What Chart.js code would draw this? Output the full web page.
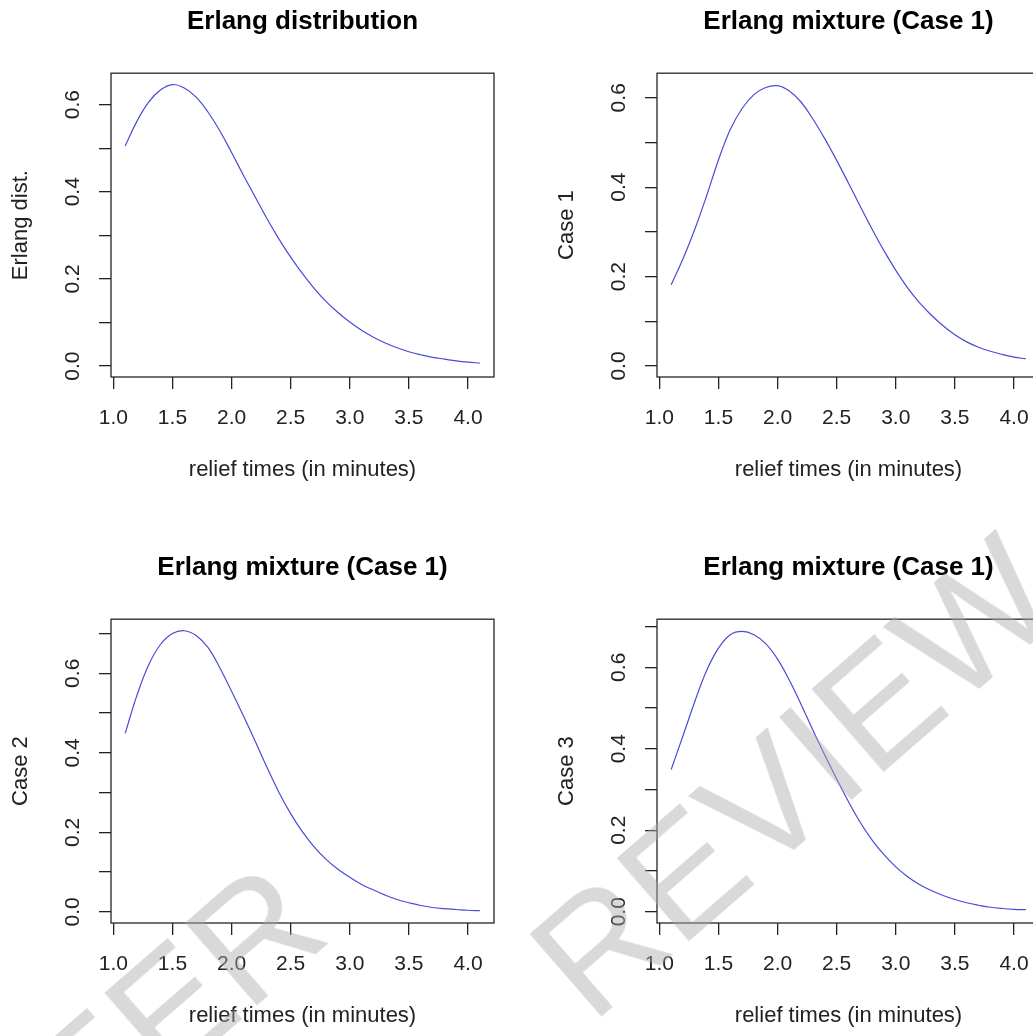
<!DOCTYPE html>
<html>
<head>
<meta charset="utf-8">
<script src="https://cdn.jsdelivr.net/npm/chart.js@4.4.1/dist/chart.umd.min.js"></script>
<style>
  html, body { margin: 0; padding: 0; background: #fff; }
  #page { position: relative; width: 1033px; height: 1036px; overflow: hidden; background: #fff; }
  .panel { position: absolute; width: 546px; height: 546px; }
  .panel canvas { display: block; }
  .stamp {
    position: absolute;
    font-family: 'Liberation Sans', Arial, sans-serif; font-size: 160px;
    color: rgba(170, 170, 170, 0.45); white-space: nowrap;
    transform: translate(-50%, -50%) rotate(-41deg);
    pointer-events: none;
  }
</style>
</head>
<body>
<div id="page">
  <div class="panel" style="left:0;top:0"><canvas id="c1" width="546" height="546"></canvas></div>
  <div class="panel" style="left:546px;top:0"><canvas id="c2" width="546" height="546"></canvas></div>
  <div class="panel" style="left:0;top:546px"><canvas id="c3" width="546" height="546"></canvas></div>
  <div class="panel" style="left:546px;top:546px"><canvas id="c4" width="546" height="546"></canvas></div>
  <div class="stamp" style="left:134px;top:1040px">PEER</div>
  <div class="stamp" style="left:794px;top:777px">REVIEW</div>
</div>
<script>
// relief times, every 0.1 min
const reliefTimes = [1.1, 1.2, 1.3, 1.4, 1.5, 1.6, 1.7, 1.8, 1.9, 2.0,
                     2.1, 2.2, 2.3, 2.4, 2.5, 2.6, 2.7, 2.8, 2.9, 3.0,
                     3.1, 3.2, 3.3, 3.4, 3.5, 3.6, 3.7, 3.8, 3.9, 4.0, 4.1];

const erlangDist = [0.505, 0.562, 0.606, 0.634, 0.646, 0.638, 0.617, 0.583, 0.540, 0.490,
                    0.438, 0.388, 0.338, 0.292, 0.250, 0.212, 0.178, 0.148, 0.123, 0.101,
                    0.082, 0.066, 0.053, 0.042, 0.033, 0.026, 0.020, 0.016, 0.012, 0.009, 0.007];

const case1 = [0.182, 0.240, 0.306, 0.381, 0.461, 0.529, 0.576, 0.607, 0.623, 0.627,
               0.615, 0.590, 0.552, 0.508, 0.460, 0.409, 0.357, 0.306, 0.258, 0.214,
               0.175, 0.142, 0.114, 0.090, 0.070, 0.054, 0.042, 0.033, 0.026, 0.020, 0.016];

const case2 = [0.449, 0.545, 0.622, 0.673, 0.700, 0.707, 0.695, 0.665, 0.614, 0.555,
               0.493, 0.429, 0.363, 0.301, 0.247, 0.201, 0.163, 0.132, 0.107, 0.087,
               0.069, 0.055, 0.042, 0.031, 0.023, 0.016, 0.011, 0.008, 0.006, 0.004, 0.003];

const case3 = [0.349, 0.432, 0.516, 0.592, 0.647, 0.680, 0.688, 0.680, 0.658, 0.620,
               0.568, 0.508, 0.445, 0.384, 0.326, 0.270, 0.219, 0.176, 0.140, 0.110,
               0.086, 0.067, 0.052, 0.040, 0.030, 0.022, 0.016, 0.011, 0.008, 0.006, 0.005];

const xTicks = [1.0, 1.5, 2.0, 2.5, 3.0, 3.5, 4.0];
const yTicksTop = [0, 0.1, 0.2, 0.3, 0.4, 0.5, 0.6];
const yTicksBottom = [0, 0.1, 0.2, 0.3, 0.4, 0.5, 0.6, 0.7];
const yLabelled = [0, 0.2, 0.4, 0.6];

const panelTitles = ['Erlang distribution', 'Erlang mixture (Case 1)',
                     'Erlang mixture (Case 1)', 'Erlang mixture (Case 1)'];
const yTitles = ['Erlang dist.', 'Case 1', 'Case 2', 'Case 3'];
const xTitle = 'relief times (in minutes)';

Chart.defaults.font.family = "'Liberation Sans', Arial, sans-serif";

// R-style frame round the plot region
const plotBox = {
  id: 'plotBox',
  afterDraw(chart) {
    const { ctx, chartArea: a } = chart;
    ctx.save();
    ctx.strokeStyle = '#262626';
    ctx.lineWidth = 1.3;
    ctx.strokeRect(a.left, a.top, a.right - a.left, a.bottom - a.top);
    ctx.restore();
  }
};

const makePanel = (id, title, yTitle, values, yMin, yMax, yTicks) => {
  new Chart(document.getElementById(id), {
    type: 'scatter',
    data: {
      datasets: [{
        data: reliefTimes.map((x, i) => ({ x: x, y: values[i] })),
        showLine: true,
        borderColor: '#4a4ad8',
        borderWidth: 1.2,
        pointRadius: 0,
        tension: 0.4
      }]
    },
    options: {
      responsive: false,
      animation: false,
      devicePixelRatio: 1,
      layout: { padding: { left: 0, top: 0, right: 52, bottom: 0 } },
      plugins: {
        legend: { display: false },
        tooltip: { enabled: false },
        title: {
          display: true,
          text: title,
          fullSize: false,
          color: '#000',
          font: { size: 26, weight: 'bold' },
          padding: { top: 6, bottom: 36 }
        }
      },
      scales: {
        x: {
          type: 'linear',
          min: 0.98,
          max: 4.22,
          afterBuildTicks: (s) => { s.ticks = xTicks.map(v => ({ value: v })); },
          afterFit: (s) => { s.height = 169; },
          ticks: {
            autoSkip: false, minRotation: 0, maxRotation: 0,
            padding: 17, color: '#222', font: { size: 21 },
            callback: (v) => v.toFixed(1)
          },
          grid: { drawOnChartArea: false, tickLength: 12, color: '#222', lineWidth: 1.3 },
          border: { display: false },
          title: {
            display: true, text: xTitle, color: '#222',
            font: { size: 22 }, padding: { top: 0, bottom: 63 }
          }
        },
        y: {
          type: 'linear',
          min: yMin,
          max: yMax,
          afterBuildTicks: (s) => { s.ticks = yTicks.map(v => ({ value: v })); },
          afterFit: (s) => { s.width = 111; },
          ticks: {
            autoSkip: false, minRotation: 90, maxRotation: 90,
            crossAlign: 'center', padding: 11, color: '#222', font: { size: 21 },
            callback: (v) => yLabelled.some(l => Math.abs(l - v) < 1e-9) ? v.toFixed(1) : ''
          },
          grid: { drawOnChartArea: false, tickLength: 12, color: '#222', lineWidth: 1.3 },
          border: { display: false },
          title: {
            display: true, text: yTitle, color: '#222',
            font: { size: 22 }, padding: { top: 8, bottom: 0 }
          }
        }
      }
    },
    plugins: [plotBox]
  });
};

makePanel('c1', panelTitles[0], yTitles[0], erlangDist, -0.025, 0.672, yTicksTop);
makePanel('c2', panelTitles[1], yTitles[1], case1, -0.0246, 0.655, yTicksTop);
makePanel('c3', panelTitles[2], yTitles[2], case2, -0.028, 0.736, yTicksBottom);
makePanel('c4', panelTitles[3], yTitles[3], case3, -0.0276, 0.718, yTicksBottom);
</script>
</body>
</html>
